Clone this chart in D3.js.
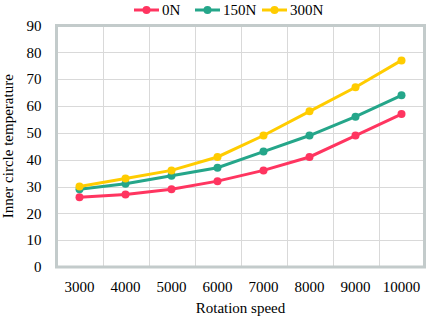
<!DOCTYPE html>
<html>
<head>
<meta charset="utf-8">
<script src="https://cdn.jsdelivr.net/npm/d3@7"></script>
<style>
  body { margin: 0; background: #fff; }
  svg text { font-family: "Liberation Serif", "Times New Roman", serif; fill: #000; }
</style>
</head>
<body>
<div class="container"></div>
<script>
// ----- DATA -----
const speeds = ["3000", "4000", "5000", "6000", "7000", "8000", "9000", "10000"];
const load0 = [26, 27, 29, 32, 36, 41, 49, 57];
const load150 = [29, 31, 34, 37, 43, 49, 56, 64];
const load300 = [30, 33, 36, 41, 49, 58, 67, 77];
const seriesNames = ["0N", "150N", "300N"];
const seriesColors = ["#ff3560", "#25a68a", "#ffcc00"];
const yTicks = [0, 10, 20, 30, 40, 50, 60, 70, 80, 90];

const series = [load0, load150, load300].map((v, i) => ({
  name: seriesNames[i], color: seriesColors[i], values: v
}));

const w = 430;
const h = 319;
const margin = { top: 25.5, right: 5.5, bottom: 52, left: 56.5 };

const svg = d3.select(".container")
  .append("svg")
  .attr("width", w)
  .attr("height", h);

// ----- SCALES -----
const xScale = d3.scaleBand()
  .domain(speeds)
  .range([margin.left, w - margin.right]);

const yScale = d3.scaleLinear()
  .domain([0, 90])
  .range([h - margin.bottom, margin.top]);

// ----- GRID -----
svg.append("g").selectAll("line")
  .data(yTicks)
  .enter().append("line")
  .attr("x1", margin.left).attr("x2", w - margin.right)
  .attr("y1", d => Math.round(yScale(d)) + 0.5)
  .attr("y2", d => Math.round(yScale(d)) + 0.5)
  .attr("stroke", "#d9d9d9");

svg.append("g").selectAll("line")
  .data(speeds.slice(1))
  .enter().append("line")
  .attr("x1", d => Math.round(xScale(d)) + 0.5)
  .attr("x2", d => Math.round(xScale(d)) + 0.5)
  .attr("y1", margin.top).attr("y2", h - margin.bottom)
  .attr("stroke", "#d9d9d9");

// plot frame
svg.append("rect")
  .attr("x", margin.left)
  .attr("y", margin.top)
  .attr("width", w - margin.left - margin.right)
  .attr("height", h - margin.top - margin.bottom)
  .attr("fill", "none")
  .attr("stroke", "#c3cbcb")
  .attr("stroke-width", 3);

// ----- AXES -----
const yAxis = d3.axisLeft(yScale).tickValues(yTicks).tickSize(0).tickPadding(15);
svg.append("g")
  .attr("transform", "translate(" + margin.left + ",0)")
  .call(yAxis)
  .call(g => g.select(".domain").remove())
  .selectAll("text")
  .style("font-size", "15px")
  .style("font-family", "Liberation Serif");

const xAxis = d3.axisBottom(xScale).tickSize(0).tickPadding(14);
svg.append("g")
  .attr("transform", "translate(0," + (h - margin.bottom) + ")")
  .call(xAxis)
  .call(g => g.select(".domain").remove())
  .selectAll("text")
  .style("font-size", "15px")
  .style("font-family", "Liberation Serif");

// ----- LINES -----
const line = d3.line()
  .x((d, i) => xScale(speeds[i]) + xScale.bandwidth() / 2)
  .y(d => yScale(d));

series.forEach(s => {
  svg.append("path")
    .datum(s.values)
    .attr("d", line)
    .attr("fill", "none")
    .attr("stroke", s.color)
    .attr("stroke-width", 3);

  svg.append("g").selectAll("circle")
    .data(s.values)
    .enter().append("circle")
    .attr("cx", (d, i) => xScale(speeds[i]) + xScale.bandwidth() / 2)
    .attr("cy", d => yScale(d))
    .attr("r", 4)
    .attr("fill", s.color);
});

// ----- LEGEND -----
const legendX = [134, 195, 262];
const legend = svg.append("g").selectAll("g")
  .data(series)
  .enter().append("g")
  .attr("transform", (d, i) => "translate(" + legendX[i] + ",10)");

legend.append("line")
  .attr("x1", 0).attr("x2", 25)
  .attr("stroke", d => d.color)
  .attr("stroke-width", 3);
legend.append("circle")
  .attr("cx", 12.5).attr("r", 4)
  .attr("fill", d => d.color);
legend.append("text")
  .attr("x", 28)
  .attr("dy", "0.35em")
  .style("font-size", "15px")
  .text(d => d.name);

// ----- AXIS TITLES -----
svg.append("text")
  .attr("x", margin.left + (w - margin.left - margin.right) / 2)
  .attr("y", 313)
  .attr("text-anchor", "middle")
  .style("font-size", "15px")
  .text("Rotation speed");

svg.append("text")
  .attr("transform", "translate(13," + (margin.top + (h - margin.top - margin.bottom) / 2) + ") rotate(-90)")
  .attr("text-anchor", "middle")
  .style("font-size", "15px")
  .text("Inner circle temperature");
</script>
</body>
</html>
